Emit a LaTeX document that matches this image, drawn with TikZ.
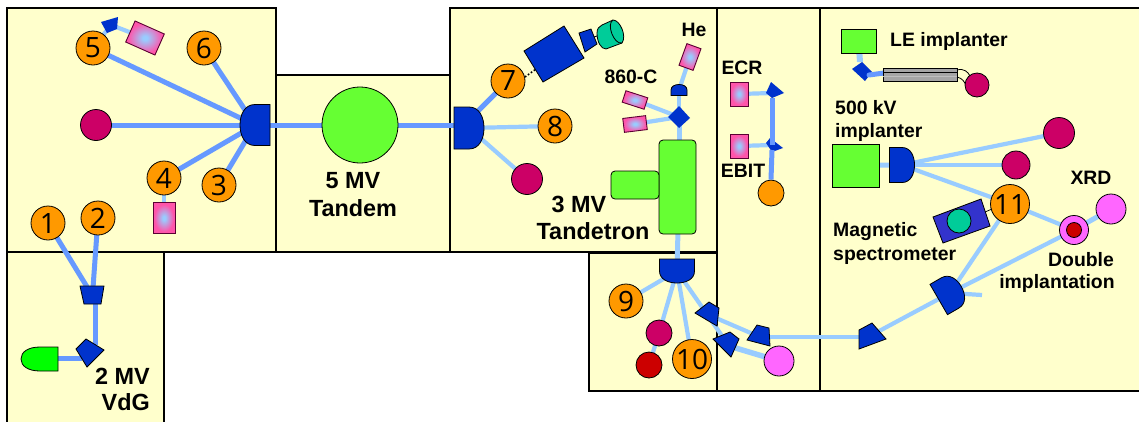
\documentclass[tikz,border=0pt]{standalone}
\usepackage{fontspec}
\setmainfont{Liberation Sans}
\newfontfamily\numfont{Open Sans}
\pgfdeclarelayer{panels}
\pgfdeclarelayer{conns}
\pgfsetlayers{panels,conns,main}
\definecolor{pan}{HTML}{FFFFCC}
\definecolor{med}{HTML}{6699FF}
\definecolor{pale}{HTML}{99CCFF}
\definecolor{mblue}{HTML}{0033CC}
\definecolor{oran}{HTML}{FF9900}
\definecolor{plum}{HTML}{CC0066}
\definecolor{lgreen}{HTML}{66FF33}
\definecolor{pinkc}{HTML}{FF66FF}
\definecolor{redc}{HTML}{CC0000}
\definecolor{tealc}{HTML}{00CC99}
\definecolor{specb}{HTML}{3333CC}
\definecolor{srcp}{HTML}{FF55AA}
\pgfdeclareradialshading{srcshade}{\pgfpoint{0bp}{0bp}}{color(0bp)=(pale);color(3bp)=(pale);color(22bp)=(srcp);color(50bp)=(srcp)}
\tikzset{
 panel/.style={draw=black,fill=pan,line width=1.4pt},
 medl/.style={draw=med,line width=5pt},
 palel/.style={draw=pale,line width=4.2pt},
 edge/.style={draw=black,line width=.8pt},
 mag/.style={edge,fill=mblue},
 numc/.style={circle,edge,fill=oran,inner sep=0pt,minimum size=34pt,font=\numfont\fontsize{28}{28}\selectfont},
 dot/.style={circle,edge,inner sep=0pt},
 src/.style={rectangle,draw={rgb,255:red,90;green,0;blue,50},line width=.9pt,inner sep=0pt,shading=srcshade},
 lab/.style={inner sep=0pt,font=\bfseries\fontsize{19.4}{19.4}\selectfont},
 big/.style={inner sep=0pt,font=\bfseries\fontsize{23.4}{23.4}\selectfont},
 greenb/.style={edge,fill=lgreen},
 pics/dmag/.style 2 args={code={
  \path[mag] (-#1/2,-#2/2) -- (0,-#2/2) .. controls (#1*.35,-#2/2) and (#1/2,-#2/4) .. (#1/2,0)
   .. controls (#1/2,#2/4) and (#1*.35,#2/2) .. (0,#2/2) -- (-#1/2,#2/2) -- cycle;}}
}
\begin{document}
\begin{tikzpicture}[x=1pt,y=-1pt]
\useasboundingbox (0,0) rectangle (1139,421);
\begin{pgfonlayer}{panels}
\fill[white] (0,0) rectangle (1139,421);
\draw[panel] (7,8) rectangle (276,252);
\draw[panel] (276,75) rectangle (450,252);
\draw[panel] (7,252) -- (164,252) -- (164,424) -- (7,424) -- cycle;
\draw[panel] (589,253) rectangle (717,391);
\draw[panel] (450,8) rectangle (717,252);
\draw[panel] (717,8) rectangle (820,391);
\draw[panel] (820,8) rectangle (1142,391);
\end{pgfonlayer}
% named anchor points
\coordinate (magA) at (255,125);
\coordinate (magB) at (469,128);
\coordinate (magBl) at (462,125);
\coordinate (magBt) at (476,113);
\coordinate (magC) at (677,271);
\coordinate (magD) at (902,165);
\coordinate (magE) at (950,293);
\coordinate (stub) at (982,295);
\coordinate (trapV) at (92,295);
\coordinate (dia1) at (89,352);
\coordinate (dia1l) at (82,358);
\coordinate (trap5) at (111,25);
\coordinate (T1) at (709,315);
\coordinate (T2) at (729,346);
\coordinate (T3) at (760,337);
\coordinate (T4) at (868,337);
\coordinate (dome) at (679,90);
\coordinate (dia2) at (679,117);
\coordinate (ttt) at (679,150);
\coordinate (ttb) at (678,230);
\coordinate (ecrm) at (772,93);
\coordinate (ebitm) at (772,145);
\coordinate (dia3) at (862,72);
\coordinate (tube) at (884,73);
% circles
\node[numc] (n1) at (48,223) {1};
\node[numc] (n2) at (98,218) {2};
\node[numc] (n3) at (219,185) {3};
\node[numc] (n4) at (164,178) {4};
\node[numc] (n5) at (93,48) {5};
\node[numc] (n6) at (204,48) {6};
\node[numc] (n7) at (508,81) {7};
\node[numc] (n8) at (555,126) {8};
\node[numc] (n9) at (626,301) {9};
\node[numc,minimum size=39pt] (n10) at (692,359) {10};
\node[numc,minimum size=39pt] (n11) at (1010,204) {11};
\node[dot,fill=plum,minimum size=31pt] (m1) at (96,125) {};
\node[dot,fill=plum,minimum size=31pt] (m2) at (527,179) {};
\node[dot,fill=plum,minimum size=26pt] (m3) at (659,333) {};
\node[dot,fill=plum,minimum size=31pt] (m4) at (1059,133) {};
\node[dot,fill=plum,minimum size=28pt] (m5) at (1016,165) {};
\node[dot,fill=redc,minimum size=26pt] (r1) at (649,365) {};
\node[dot,fill=pinkc,minimum size=30pt] (p1) at (779,361) {};
\node[dot,fill=pinkc,minimum size=30pt] (xrd) at (1111,209) {};
\node[dot,fill=pinkc,minimum size=29pt] (dbl) at (1074,230) {};
\node[dot,fill=redc,minimum size=15pt] (dblr) at (1074,230) {};
\node[dot,fill=oran,minimum size=26pt] (ob) at (771,193) {};
\node[dot,fill=lgreen,minimum size=76pt] (tandem) at (360,125) {};
% sources
\node[src,minimum width=22pt,minimum height=31pt] (s4) at (164,218) {};
\node[src,minimum width=32pt,minimum height=23pt,rotate=-24] (s5) at (145,38) {};
\node[src,minimum width=15pt,minimum height=23pt,rotate=-20] (she) at (690,57) {};
\node[src,minimum width=23pt,minimum height=12pt,rotate=-18] (s86a) at (635,100) {};
\node[src,minimum width=23pt,minimum height=14pt,rotate=7] (s86b) at (635,124) {};
\node[src,minimum width=18pt,minimum height=24pt] (ecr) at (739,94) {};
\node[src,minimum width=18pt,minimum height=24pt] (ebit) at (739,146) {};
% green blocks
\node[greenb,rectangle,rounded corners=4pt,minimum width=37pt,minimum height=94pt,inner sep=0pt] (tt) at (677.5,187) {};
\node[greenb,rectangle,rounded corners=4pt,minimum width=48pt,minimum height=28pt,inner sep=0pt] (tth) at (635,185) {};
\node[greenb,rectangle,minimum width=47pt,minimum height=43pt,inner sep=0pt] (g500) at (855.5,165.5) {};
\node[greenb,rectangle,minimum width=35pt,minimum height=24pt,inner sep=0pt] (gle) at (858.5,41) {};
\node[inner sep=0pt,minimum size=0pt] (gun) at (50,358) {};
% connectors
\begin{pgfonlayer}{conns}
\draw[medl] (n5.center) -- (magA);
\draw[medl] (n6.center) -- (magA);
\draw[medl] (m1.center) -- (magA);
\draw[medl] (n4.center) -- (magA);
\draw[medl] (n3.center) -- (magA);
\draw[medl] (magA) -- (tandem.center);
\draw[medl] (tandem.center) -- (magBl);
\draw[medl] (n1.center) -- (trapV);
\draw[medl] (n2.center) -- (93,288);
\draw[medl] (trapV)+(3,0) -- (95,345);
\draw[medl] (gun.center) -- (dia1l);
\draw[palel] (n4.center) -- (s4.center);
\draw[palel] (n5.center) -- (trap5);
\draw[palel] (trap5) -- (s5.center);
\draw[medl] (magBt) -- (n7.center);
\draw[palel] (magB) -- (n8.center);
\draw[palel] (magB) -- (m2.center);
\draw[palel] (she.center) -- (dome);
\draw[palel] (dome) -- (dia2);
\draw[palel] (s86a.center) -- (dia2);
\draw[palel] (s86b.center) -- (dia2);
\draw[palel,line width=5pt] (dia2) -- (ttt);
\draw[palel,line width=5pt] (ttb) -- (magC);
\draw[palel] (magC) -- (n9.center);
\draw[palel] (magC) -- (m3.center);
\draw[palel] (m3.center) -- (r1.center);
\draw[palel] (magC) -- (n10.center);
\draw[palel] (magC) -- (T2);
\draw[palel] (T1) -- (T3);
\draw[palel] (T3) -- (T4);
\draw[palel,line width=5.5pt] (T2) -- (p1.center);
\draw[palel] (T4) -- (magE);
\draw[palel] (magE) -- (n11.center);
\draw[palel] (magE) -- (dbl.center);
\draw[palel] (magE) -- (stub);
\draw[palel] (n11.center) -- (dbl.center);
\draw[palel,line width=5pt] (dbl.center) -- (xrd.center);
\draw[palel,line width=5pt] (g500.center) -- (magD);
\draw[palel] (magD) -- (m4.center);
\draw[palel] (magD) -- (m5.center);
\draw[palel] (magD) -- (n11.center);
\draw[palel,line width=6pt] (gle.center) -- (860,62);
\draw[palel] (ecr.center) -- (ecrm);
\draw[palel] (ebit.center) -- (ebitm);
\end{pgfonlayer}
% magnets
\pic[rotate=180] at (magA) {dmag={30}{41}};
\pic at (magB) {dmag={30}{42}};
\pic[rotate=-90] at (magC) {dmag={24}{35}};
\pic at (magD) {dmag={25}{35}};
\pic[rotate=30] at (magE) {dmag={26}{35}};
\pic[rotate=90] at (dome) {dmag={11}{16}};
% trapezoids and diamonds
\draw[mag] (80,286) -- (104,286) -- (101,304) -- (84,304) -- cycle;
\draw[mag] (76,349) -- (86,339) -- (104,350) -- (87,367) -- cycle;
\fill[mblue] (101,22) -- (118,17) -- (117,29) -- (107,33) -- cycle;
\draw[mag] (695,313) -- (709,302) -- (719,308) -- (717,326) -- cycle;
\draw[mag] (713,339) -- (730,332) -- (739,339) -- (731,357) -- cycle;
\draw[mag] (747,340) -- (757,325) -- (769,328) -- (770,346) -- cycle;
\draw[mag] (859,330) -- (872,323) -- (886,339) -- (859,349) -- cycle;
\fill[mblue] (668,117) -- (679,106) -- (690,118) -- (679,128) -- cycle;
\fill[mblue] (852,69) -- (862,62) -- (872,72) -- (865,81) -- cycle;
\fill[mblue] (766,93) -- (771,82) -- (784,93) -- (772,98) -- cycle;
\fill[mblue] (766,143) -- (770,138) -- (783,148) -- (772,152) -- cycle;
\draw[medl] (ecrm) ++(0,5) -- (ebitm);
\draw[medl] (772,150) -- (ob.north);
\draw[medl,line cap=round] (869,75) -- (tube);
% gun
\draw[edge,fill=green] (58,347) -- (40,347) .. controls (28,347) and (21,352) .. (21,359)
  .. controls (21,366) and (28,371) .. (40,371) -- (58,371) -- cycle;
% LE tube
\draw[edge,fill=black!35] (883,68) rectangle (957,81);
\draw[black,line width=.6pt] (883,72) -- (957,72);
\draw[black!25,line width=1pt] (883,76) -- (957,76);
\draw[edge] (957,70) .. controls (964,68) and (968,72) .. (970,76);
\draw[edge] (957,77) .. controls (962,78) and (965,82) .. (966,86);
\node[dot,fill=plum,minimum size=24pt] (m6) at (977,85) {};
% end station at 7
\draw[black,line width=.9pt] (585,40) -- (600,35);
\draw[black,line width=1.6pt,dotted] (525,77) -- (536,69);
\draw[mag] (524,51) -- (564,26) -- (584,58) -- (543,82) -- cycle;
\draw[mag] (579,33) -- (591,29) -- (597,44) -- (585,52) -- cycle;
\draw[edge,fill=tealc] (602,25) -- (613,20) .. controls (620,20) and (627,36) .. (622,43) -- (606,49) .. controls (601,49) and (597,42) .. (597,33) .. controls (597,29) and (599,26) .. (602,25) -- cycle;
\draw[edge] (613,20) .. controls (606,24) and (614,45) .. (622,43);
% spectrometer
\draw[black,line width=.7pt] (985,212) -- (992,209);
\draw[edge,fill=specb] (933,217) -- (981,199) -- (990,226) -- (943,243) -- cycle;
\node[dot,fill=tealc,minimum size=24pt] (spec) at (959,221) {};
% labels
\node[big,anchor=east] (l2mv) at (150,376) {2 MV};
\node[big,anchor=east] (lvdg) at (150,402) {VdG};
\node[big] (l5mv) at (353,181) {5 MV};
\node[big] (ltand) at (353,208) {Tandem};
\node[big] (l3mv) at (579,204) {3 MV};
\node[big] (ltron) at (593,231) {Tandetron};
\node[lab] (lhe) at (694,30) {He};
\node[lab] (l860) at (631,77) {860-C};
\node[lab] (lecr) at (742,68) {ECR};
\node[lab] (lebit) at (743,171) {EBIT};
\node[lab,anchor=west] (lle) at (890,41) {LE implanter};
\node[lab,anchor=west] (l500) at (835,108) {500 kV};
\node[lab,anchor=west] (limp) at (835,132) {implanter};
\node[lab] (lxrd) at (1091,178) {XRD};
\node[lab,anchor=west] (lmag) at (833,232) {Magnetic};
\node[lab,anchor=west] (lspec) at (833,256) {spectrometer};
\node[lab] (ldbl) at (1081,260) {Double};
\node[lab] (limpl) at (1057,283) {implantation};
\end{tikzpicture}
\end{document}
